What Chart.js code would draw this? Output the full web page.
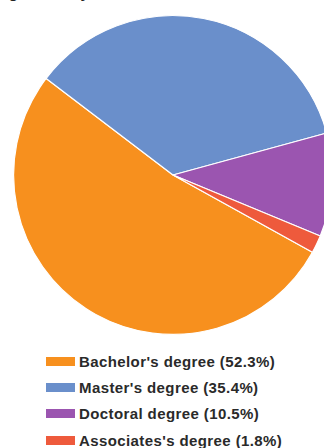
<!DOCTYPE html>
<html>
<head>
<meta charset="utf-8">
<script src="https://cdn.jsdelivr.net/npm/chart.js@4/dist/chart.umd.min.js"></script>
<style>
  html, body { margin: 0; padding: 0; background: #fff; overflow: hidden; width: 324px; height: 448px; }
  #title {
    position: absolute; right: 95px; top: -16px; white-space: nowrap;
    font: bold 16px "Liberation Sans", Arial, sans-serif; color: #222;
  }
  #pieBox { position: absolute; left: 0; top: 0; width: 346px; height: 336px; }
  #legend { position: absolute; left: 46px; top: 348px; list-style: none; margin: 0; padding: 0; }
  #legend li {
    height: 26.3px; display: flex; align-items: center; letter-spacing: 0.4px;
    font: bold 15px "Liberation Sans", Arial, sans-serif; color: #2a2a2a;
  }
  #legend span.box { display: inline-block; width: 29px; height: 9px; margin-right: 4px; }
</style>
</head>
<body>
<div id="title">Highest degree that you have received?</div>
<div id="pieBox"><canvas id="pie"></canvas></div>
<ul id="legend"></ul>
<script>
const degrees = ["Bachelor's degree", "Master's degree", "Doctoral degree", "Associates's degree"];
const shares = [52.3, 35.4, 10.5, 1.8];
const sliceColors = ['#F7901E', '#6A8FCB', '#9B55B0', '#EE5A3C'];

const ctx = document.getElementById('pie').getContext('2d');

const pieChart = new Chart(ctx, {
  type: 'pie',
  data: {
    labels: degrees,
    datasets: [{
      data: shares,
      backgroundColor: sliceColors,
      borderColor: '#ffffff',
      borderWidth: 1.2
    }]
  },
  options: {
    responsive: true,
    maintainAspectRatio: false,
    animation: false,
    rotation: 119,
    layout: { padding: { top: 15, bottom: 1 } },
    plugins: {
      legend: { display: false },
      tooltip: { enabled: false }
    }
  }
});

// legend rows under the pie
const legendList = document.getElementById('legend');
degrees.forEach(function(name, i) {
  const li = document.createElement('li');
  const box = document.createElement('span');
  box.className = 'box';
  box.style.background = sliceColors[i];
  li.appendChild(box);
  li.appendChild(document.createTextNode(name + ' (' + shares[i].toFixed(1) + '%)'));
  legendList.appendChild(li);
});
</script>
</body>
</html>
